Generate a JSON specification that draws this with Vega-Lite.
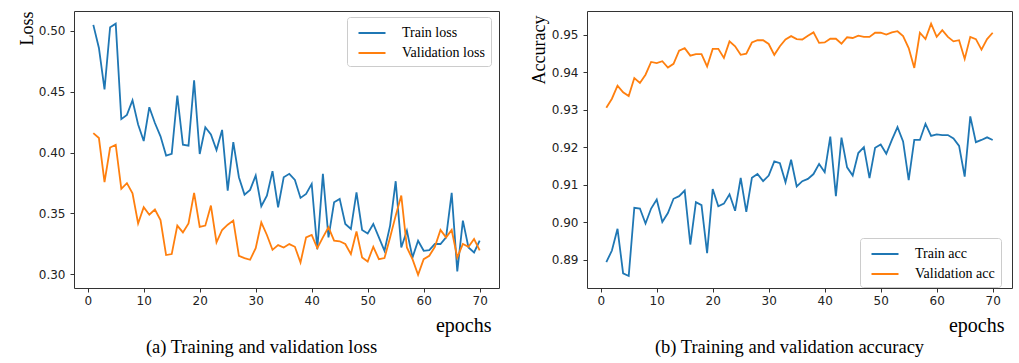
{
  "$schema": "https://vega.github.io/schema/vega-lite/v6.json",
  "padding": {"left": 17, "top": 10, "right": 5, "bottom": 2},
  "background": "white",
  "datasets": {
    "loss": [
      {"epoch":1,"Train loss":0.505,"Validation loss":0.416},
      {"epoch":2,"Train loss":0.486,"Validation loss":0.4119},
      {"epoch":3,"Train loss":0.452,"Validation loss":0.3756},
      {"epoch":4,"Train loss":0.503,"Validation loss":0.4041},
      {"epoch":5,"Train loss":0.506,"Validation loss":0.4064},
      {"epoch":6,"Train loss":0.4275,"Validation loss":0.3701},
      {"epoch":7,"Train loss":0.431,"Validation loss":0.3748},
      {"epoch":8,"Train loss":0.443,"Validation loss":0.3665},
      {"epoch":9,"Train loss":0.423,"Validation loss":0.3417},
      {"epoch":10,"Train loss":0.4095,"Validation loss":0.355},
      {"epoch":11,"Train loss":0.4373,"Validation loss":0.3489},
      {"epoch":12,"Train loss":0.4243,"Validation loss":0.3531},
      {"epoch":13,"Train loss":0.4133,"Validation loss":0.3445},
      {"epoch":14,"Train loss":0.3975,"Validation loss":0.3157},
      {"epoch":15,"Train loss":0.399,"Validation loss":0.3165},
      {"epoch":16,"Train loss":0.4469,"Validation loss":0.3399},
      {"epoch":17,"Train loss":0.4065,"Validation loss":0.3343},
      {"epoch":18,"Train loss":0.4057,"Validation loss":0.3417},
      {"epoch":19,"Train loss":0.4593,"Validation loss":0.3668},
      {"epoch":20,"Train loss":0.3988,"Validation loss":0.3388},
      {"epoch":21,"Train loss":0.4208,"Validation loss":0.3399},
      {"epoch":22,"Train loss":0.4148,"Validation loss":0.3564},
      {"epoch":23,"Train loss":0.402,"Validation loss":0.3261},
      {"epoch":24,"Train loss":0.4186,"Validation loss":0.3363},
      {"epoch":25,"Train loss":0.3687,"Validation loss":0.3407},
      {"epoch":26,"Train loss":0.4086,"Validation loss":0.344},
      {"epoch":27,"Train loss":0.3797,"Validation loss":0.3151},
      {"epoch":28,"Train loss":0.3654,"Validation loss":0.3132},
      {"epoch":29,"Train loss":0.3693,"Validation loss":0.3118},
      {"epoch":30,"Train loss":0.3811,"Validation loss":0.3214},
      {"epoch":31,"Train loss":0.3558,"Validation loss":0.3425},
      {"epoch":32,"Train loss":0.3646,"Validation loss":0.3322},
      {"epoch":33,"Train loss":0.3847,"Validation loss":0.32},
      {"epoch":34,"Train loss":0.355,"Validation loss":0.3239},
      {"epoch":35,"Train loss":0.3797,"Validation loss":0.3219},
      {"epoch":36,"Train loss":0.3825,"Validation loss":0.3247},
      {"epoch":37,"Train loss":0.3775,"Validation loss":0.3225},
      {"epoch":38,"Train loss":0.3627,"Validation loss":0.3096},
      {"epoch":39,"Train loss":0.366,"Validation loss":0.3302},
      {"epoch":40,"Train loss":0.3742,"Validation loss":0.3322},
      {"epoch":41,"Train loss":0.3206,"Validation loss":0.3214},
      {"epoch":42,"Train loss":0.3825,"Validation loss":0.3302},
      {"epoch":43,"Train loss":0.3302,"Validation loss":0.3385},
      {"epoch":44,"Train loss":0.3591,"Validation loss":0.3275},
      {"epoch":45,"Train loss":0.3619,"Validation loss":0.327},
      {"epoch":46,"Train loss":0.3413,"Validation loss":0.3248},
      {"epoch":47,"Train loss":0.3371,"Validation loss":0.3165},
      {"epoch":48,"Train loss":0.3673,"Validation loss":0.3351},
      {"epoch":49,"Train loss":0.3363,"Validation loss":0.3137},
      {"epoch":50,"Train loss":0.3335,"Validation loss":0.3104},
      {"epoch":51,"Train loss":0.3413,"Validation loss":0.3225},
      {"epoch":52,"Train loss":0.3302,"Validation loss":0.3123},
      {"epoch":53,"Train loss":0.3192,"Validation loss":0.3132},
      {"epoch":54,"Train loss":0.3399,"Validation loss":0.3302},
      {"epoch":55,"Train loss":0.3764,"Validation loss":0.3481},
      {"epoch":56,"Train loss":0.3219,"Validation loss":0.3646},
      {"epoch":57,"Train loss":0.3357,"Validation loss":0.3219},
      {"epoch":58,"Train loss":0.3137,"Validation loss":0.3123},
      {"epoch":59,"Train loss":0.3275,"Validation loss":0.2995},
      {"epoch":60,"Train loss":0.3192,"Validation loss":0.3123},
      {"epoch":61,"Train loss":0.3198,"Validation loss":0.3151},
      {"epoch":62,"Train loss":0.3248,"Validation loss":0.3225},
      {"epoch":63,"Train loss":0.3248,"Validation loss":0.3363},
      {"epoch":64,"Train loss":0.3302,"Validation loss":0.3302},
      {"epoch":65,"Train loss":0.3668,"Validation loss":0.3363},
      {"epoch":66,"Train loss":0.3022,"Validation loss":0.3137},
      {"epoch":67,"Train loss":0.344,"Validation loss":0.3248},
      {"epoch":68,"Train loss":0.3219,"Validation loss":0.3225},
      {"epoch":69,"Train loss":0.3178,"Validation loss":0.3289},
      {"epoch":70,"Train loss":0.3275,"Validation loss":0.3195}
    ],
    "acc": [
      {"epoch":1,"Train acc":0.8893,"Validation acc":0.9305},
      {"epoch":2,"Train acc":0.8924,"Validation acc":0.9329},
      {"epoch":3,"Train acc":0.8982,"Validation acc":0.9364},
      {"epoch":4,"Train acc":0.8863,"Validation acc":0.9346},
      {"epoch":5,"Train acc":0.8856,"Validation acc":0.9336},
      {"epoch":6,"Train acc":0.9038,"Validation acc":0.9384},
      {"epoch":7,"Train acc":0.9036,"Validation acc":0.9371},
      {"epoch":8,"Train acc":0.8996,"Validation acc":0.9393},
      {"epoch":9,"Train acc":0.9036,"Validation acc":0.9427},
      {"epoch":10,"Train acc":0.906,"Validation acc":0.9424},
      {"epoch":11,"Train acc":0.9,"Validation acc":0.9429},
      {"epoch":12,"Train acc":0.9024,"Validation acc":0.9412},
      {"epoch":13,"Train acc":0.9062,"Validation acc":0.9422},
      {"epoch":14,"Train acc":0.9069,"Validation acc":0.9457},
      {"epoch":15,"Train acc":0.9084,"Validation acc":0.9464},
      {"epoch":16,"Train acc":0.894,"Validation acc":0.9444},
      {"epoch":17,"Train acc":0.9053,"Validation acc":0.9448},
      {"epoch":18,"Train acc":0.9045,"Validation acc":0.9448},
      {"epoch":19,"Train acc":0.8917,"Validation acc":0.9415},
      {"epoch":20,"Train acc":0.9088,"Validation acc":0.9462},
      {"epoch":21,"Train acc":0.9042,"Validation acc":0.9462},
      {"epoch":22,"Train acc":0.9049,"Validation acc":0.9438},
      {"epoch":23,"Train acc":0.9074,"Validation acc":0.9482},
      {"epoch":24,"Train acc":0.903,"Validation acc":0.9469},
      {"epoch":25,"Train acc":0.9118,"Validation acc":0.9446},
      {"epoch":26,"Train acc":0.9027,"Validation acc":0.9449},
      {"epoch":27,"Train acc":0.9118,"Validation acc":0.9479},
      {"epoch":28,"Train acc":0.9128,"Validation acc":0.9485},
      {"epoch":29,"Train acc":0.9109,"Validation acc":0.9485},
      {"epoch":30,"Train acc":0.9124,"Validation acc":0.9475},
      {"epoch":31,"Train acc":0.9162,"Validation acc":0.9446},
      {"epoch":32,"Train acc":0.9157,"Validation acc":0.9469},
      {"epoch":33,"Train acc":0.9106,"Validation acc":0.9487},
      {"epoch":34,"Train acc":0.9166,"Validation acc":0.9496},
      {"epoch":35,"Train acc":0.9095,"Validation acc":0.9488},
      {"epoch":36,"Train acc":0.9109,"Validation acc":0.9487},
      {"epoch":37,"Train acc":0.9115,"Validation acc":0.9497},
      {"epoch":38,"Train acc":0.9128,"Validation acc":0.9506},
      {"epoch":39,"Train acc":0.9155,"Validation acc":0.9478},
      {"epoch":40,"Train acc":0.9133,"Validation acc":0.9479},
      {"epoch":41,"Train acc":0.9228,"Validation acc":0.9489},
      {"epoch":42,"Train acc":0.9069,"Validation acc":0.9489},
      {"epoch":43,"Train acc":0.9225,"Validation acc":0.9476},
      {"epoch":44,"Train acc":0.9146,"Validation acc":0.9493},
      {"epoch":45,"Train acc":0.9124,"Validation acc":0.9491},
      {"epoch":46,"Train acc":0.9184,"Validation acc":0.9497},
      {"epoch":47,"Train acc":0.92,"Validation acc":0.9494},
      {"epoch":48,"Train acc":0.9117,"Validation acc":0.9494},
      {"epoch":49,"Train acc":0.9198,"Validation acc":0.9505},
      {"epoch":50,"Train acc":0.9207,"Validation acc":0.9505},
      {"epoch":51,"Train acc":0.9182,"Validation acc":0.95},
      {"epoch":52,"Train acc":0.9219,"Validation acc":0.9506},
      {"epoch":53,"Train acc":0.9253,"Validation acc":0.9509},
      {"epoch":54,"Train acc":0.9215,"Validation acc":0.9496},
      {"epoch":55,"Train acc":0.9112,"Validation acc":0.9464},
      {"epoch":56,"Train acc":0.9219,"Validation acc":0.9411},
      {"epoch":57,"Train acc":0.9219,"Validation acc":0.9505},
      {"epoch":58,"Train acc":0.9262,"Validation acc":0.9488},
      {"epoch":59,"Train acc":0.923,"Validation acc":0.9529},
      {"epoch":60,"Train acc":0.9234,"Validation acc":0.9494},
      {"epoch":61,"Train acc":0.9232,"Validation acc":0.9512},
      {"epoch":62,"Train acc":0.9232,"Validation acc":0.9494},
      {"epoch":63,"Train acc":0.9223,"Validation acc":0.9482},
      {"epoch":64,"Train acc":0.9203,"Validation acc":0.9485},
      {"epoch":65,"Train acc":0.9121,"Validation acc":0.9435},
      {"epoch":66,"Train acc":0.9282,"Validation acc":0.9494},
      {"epoch":67,"Train acc":0.9213,"Validation acc":0.9488},
      {"epoch":68,"Train acc":0.9219,"Validation acc":0.946},
      {"epoch":69,"Train acc":0.9226,"Validation acc":0.9488},
      {"epoch":70,"Train acc":0.9219,"Validation acc":0.9505}
    ]
  },
  "bounds": "flush",
  "spacing": 88,
  "hconcat": [
    {
      "width": 425,
      "height": 277,
      "data": {"name": "loss"},
      "transform": [{"fold": ["Train loss", "Validation loss"], "as": ["series", "value"]}],
      "title": {"text": "(a) Training and validation loss", "orient": "bottom", "anchor": "middle", "dx": -25, "offset": 3},
      "mark": {"type": "line", "strokeWidth": 1.8},
      "encoding": {
        "x": {"field": "epoch", "type": "quantitative",
          "scale": {"domain": [-2.45, 73.45], "nice": false, "zero": false},
          "axis": {"values": [0,10,20,30,40,50,60,70], "title": "epochs", "titleFontSize": 20, "titleAlign": "right", "titleAnchor": "end", "titleX": 417, "titleY": 43, "titleBaseline": "alphabetic", "labelPadding": 3}},
        "y": {"field": "value", "type": "quantitative",
          "scale": {"domain": [0.2886, 0.5164], "nice": false, "zero": false},
          "axis": {"values": [0.30,0.35,0.40,0.45,0.50], "format": ".2f", "title": "Loss", "titleFontSize": 18, "titleAngle": -90, "titleAlign": "right", "titleBaseline": "alphabetic", "titleX": -42, "titleY": 0, "labelPadding": 5}},
        "color": {"field": "series", "type": "nominal",
          "scale": {"domain": ["Train loss", "Validation loss"], "range": ["#1f77b4", "#ff7f0e"]},
          "legend": {"title": null, "orient": "none", "legendX": 273, "legendY": 6}}
      }
    },
    {
      "width": 425,
      "height": 277,
      "data": {"name": "acc"},
      "transform": [{"fold": ["Train acc", "Validation acc"], "as": ["series", "value"]}],
      "title": {"text": "(b) Training and validation accuracy", "orient": "bottom", "anchor": "middle", "dx": -10, "offset": 3},
      "mark": {"type": "line", "strokeWidth": 1.8},
      "encoding": {
        "x": {"field": "epoch", "type": "quantitative",
          "scale": {"domain": [-2.45, 73.45], "nice": false, "zero": false},
          "axis": {"values": [0,10,20,30,40,50,60,70], "title": "epochs", "titleFontSize": 20, "titleAlign": "right", "titleAnchor": "end", "titleX": 417, "titleY": 43, "titleBaseline": "alphabetic", "labelPadding": 3}},
        "y": {"field": "value", "type": "quantitative",
          "scale": {"domain": [0.8824, 0.9563], "nice": false, "zero": false},
          "axis": {"values": [0.89,0.90,0.91,0.92,0.93,0.94,0.95], "format": ".2f", "title": "Accuracy", "titleFontSize": 18, "titleAngle": -90, "titleAlign": "right", "titleBaseline": "alphabetic", "titleX": -43, "titleY": 4, "labelPadding": 5}},
        "color": {"field": "series", "type": "nominal",
          "scale": {"domain": ["Train acc", "Validation acc"], "range": ["#1f77b4", "#ff7f0e"]},
          "legend": {"title": null, "orient": "none", "legendX": 273, "legendY": 227}}
      }
    }
  ],
  "resolve": {"scale": {"color": "independent", "x": "independent", "y": "independent"}, "legend": {"color": "independent"}},
  "config": {
    "view": {"stroke": "#333", "strokeWidth": 1},
    "axis": {"grid": false, "domain": false, "tickColor": "#333", "tickSize": 4, "labelFont": "DejaVu Sans", "labelFontSize": 12, "labelColor": "#222", "titleFont": "Liberation Serif", "titleFontWeight": "normal", "titleColor": "black"},
    "legend": {"symbolType": "M-1.5,0H1.5", "symbolSize": 324, "symbolStrokeWidth": 2, "symbolFillColor": "transparent", "labelFont": "Liberation Serif", "labelFontSize": 14, "labelColor": "black", "strokeColor": "#ccc", "fillColor": "white", "padding": 6, "cornerRadius": 3, "rowPadding": 3, "labelOffset": 20, "symbolOffset": 9},
    "title": {"font": "Liberation Serif", "fontSize": 18.5, "fontWeight": "normal", "color": "black"}
  }
}
